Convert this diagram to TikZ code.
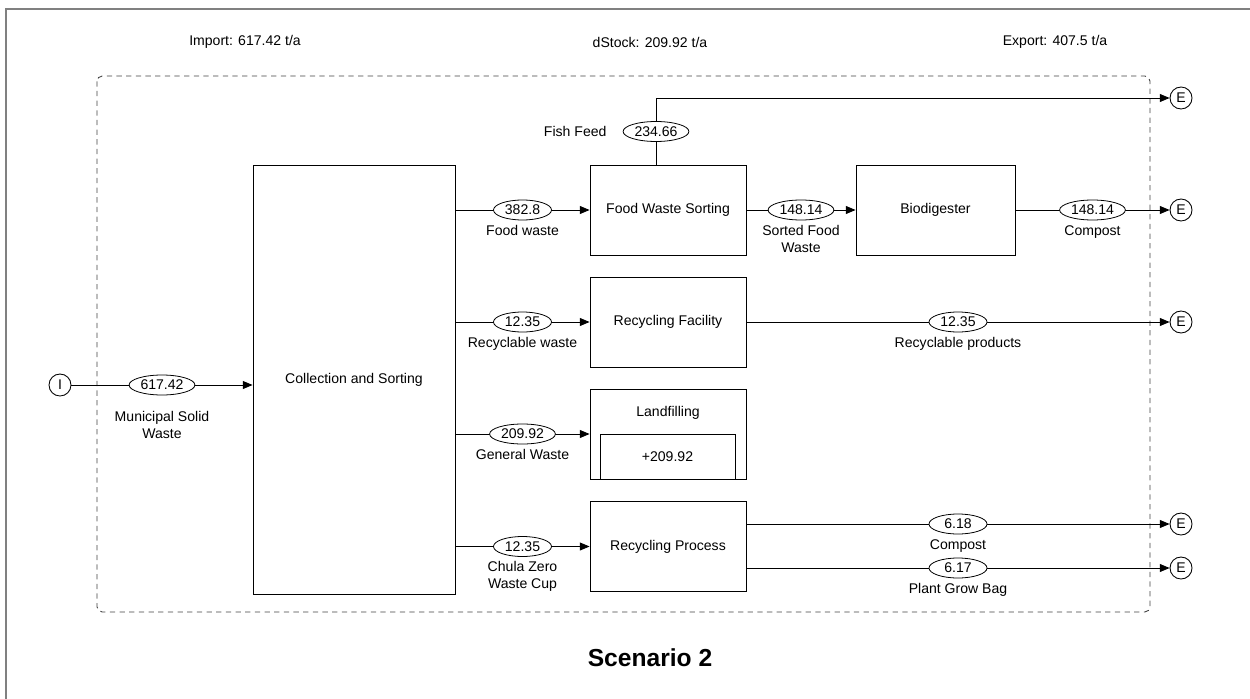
\documentclass[tikz,border=0pt]{standalone}
\usepackage{fontspec}
\setmainfont{Liberation Sans}
\usetikzlibrary{arrows.meta, positioning, shapes.geometric, calc}
\newlength{\pxu}
\setlength{\pxu}{0.02cm}

\begin{document}
\begin{tikzpicture}[x=\pxu, y=-\pxu, >={Triangle[length=5.5pt,width=4.5pt]},
        font=\fontsize{8}{9.5}\selectfont,
        proc/.style={rectangle, draw, line width=0.5pt, minimum width=156\pxu,
                     minimum height=90\pxu, inner sep=0pt},
        term/.style={circle, draw, line width=0.5pt, minimum size=22\pxu, inner sep=0pt},
        flowval/.style={ellipse, draw, fill=white, line width=0.45pt, minimum width=58\pxu,
                        minimum height=20\pxu, inner sep=1pt},
        flowlbl/.style={align=center, inner sep=1pt, label distance=1.5pt},
        flow/.style={draw, line width=0.5pt}]
      \useasboundingbox (0,0) rectangle (1250,699);
      \draw[gray, line width=0.8pt] (6,699) -- (6,9) -- (1250,9);
      \draw[gray!50!black, line width=0.5pt, dash pattern=on 3pt off 2.5pt, rounded corners=3pt]
        (97,76) rectangle (1150,612);

      \node (hin) at (245,42) {Import: 617.42 t/a};
      \node (hstock) at (650,42) {dStock: 209.92 t/a};
      \node (hout) at (1055,42) {Export: 407.5 t/a};

      \node[term] (imp) at (60,385) {I};
      \node[proc, minimum width=202\pxu, minimum height=429\pxu] (coll) at (354,379.5) {Collection and Sorting};
      \node[proc] (fws) at (668,210) {Food Waste Sorting};
      \node[proc, minimum width=159\pxu] (bio) at (935.5,210) {Biodigester};
      \node[proc] (rf) at (668,322) {Recycling Facility};
      \node[proc] (land) at (668,434) {};
      \node (landt) at (668,413) {Landfilling};
      \node[proc, minimum width=135\pxu, minimum height=45\pxu] (stock) at (667.5,456.5) {+209.92};
      \node[proc] (rp) at (668,546.5) {Recycling Process};
      \foreach \n/\y in {1/98, 2/210, 3/322, 4/524, 5/568}
        \node[term] (e\n) at (1181,\y) {E};

      \draw[flow,->] (imp) -- node[flowval, label={[flowlbl, label distance=8pt]below:Municipal Solid\\Waste}] {617.42} (coll.west |- imp);
      \draw[flow,->] (coll.east |- fws) -- node[flowval, label={[flowlbl]below:Food waste}] {382.8} (fws);
      \draw[flow,->] (coll.east |- rf) -- node[flowval, label={[flowlbl]below:Recyclable waste}] {12.35} (rf);
      \draw[flow,->] (coll.east |- land) -- node[flowval, label={[flowlbl]below:General Waste}] {209.92} (land);
      \draw[flow,->] (coll.east |- rp) -- node[flowval, label={[flowlbl]below:Chula Zero\\Waste Cup}] {12.35} (rp);

      \coordinate (ff) at (656,165);
      \draw[flow,->] (ff) -- node[flowval, label={[flowlbl, label distance=8pt]left:Fish Feed}] {234.66} (ff |- e1) -- (e1);
      \draw[flow,->] (fws) -- node[flowval, label={[flowlbl]below:Sorted Food\\Waste}] {148.14} (bio);
      \draw[flow,->] (bio) -- node[flowval, label={[flowlbl]below:Compost}] {148.14} (e2);
      \draw[flow,->] (rf) -- node[flowval, label={[flowlbl]below:Recyclable products}] {12.35} (e3);
      \draw[flow,->] (rp.east |- e4) -- node[flowval, label={[flowlbl]below:Compost}] {6.18} (e4);
      \draw[flow,->] (rp.east |- e5) -- node[flowval, label={[flowlbl]below:Plant Grow Bag}] {6.17} (e5);

      \node[font=\fontsize{14}{17}\selectfont\bfseries] (title) at (650,658) {Scenario 2};
    \end{tikzpicture}
\end{document}
